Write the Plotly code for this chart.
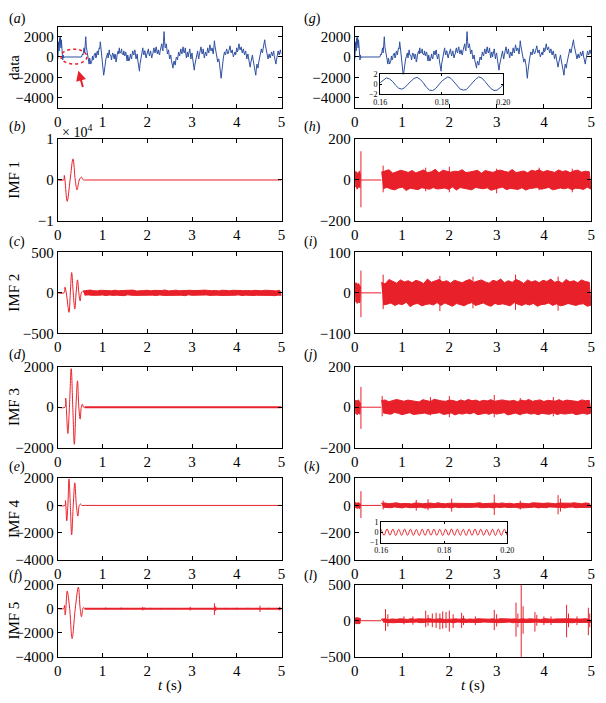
import numpy as np
import plotly.graph_objects as go

W, H = 606, 703
BLUE = '#2f50a0'
RED = '#e8202a'
FONT = 'Liberation Serif'

# ---------------- data ----------------
# raw data (a)/(g): early part 0..0.14 s, flat gap, then 0.55..5.0 s
DATA_EARLY = [-200, 800, 1500, 600, 1900, 1200, 2000, 900, 1700, 300, 900, -300, 200, -100, 0]
DATA_GAP = [0.14, 0.53]
DATA_MAIN = [
    300, 200, 700, 900, 400, 1100, 2000, 1000, 600, 700, 200, -300, -700, -100, -300, -700, -500, -400, 100, -300,
    -200, 200, 300, 400, -100, 0, 500, 600, 200, 700, 900, 800, 1500, 1000, 300, -100,
    -600, -1200, -1800, -1500, -900, -700, -200, 0, 300, 400, -100, 400, 700, 200, 200, 100, -300, 100, 400, 300,
    0, -200, 300, 200, -500, -300, 200, 400, 600, 300, 900, 400, 400, 500, 800, 300, 300, 200, 600, 200,
    100, 500, 400, -100, -400, 200, 0, -400, -300, 100, 300, -100, -200, 300, 600, 300, 200, 600, 700, 100,
    -200, 100, 300, -300, -600, -900, -1400, -700, -300, 0, 500, 700, 900, 400, 200, 600, 600, 100, -100, 200,
    400, 700, 800, 300, 100, 400, 600, 200, -100, 200, 300, 700, 900, 500, 400, 800, 1000, 600, 300, 600,
    700, 300, 200, 600, 900, 1100, 1300, 800, 600, 1500, 2500, 1500, 900, 1000, 1300, 700, 300, 500, 700, 200,
    -200, 0, 200, -300, -700, -900, -1100, -600, -400, -700, -800, -300, 0, -100, -300, 200, 500, 200, 100, 500,
    800, 500, 300, 700, 1000, 600, 400, 600, 900, 300, -100, 300, 500, 0, 200, 600, 800, 300, -200, 200,
    400, -100, -600, -1000, -1300, -800, -500, -100, 100, 400, 600, 100, -200, 200, 400, 800, 1000, 600, 300, 500,
    800, 300, -100, 200, 500, 300, 100, 500, 900, 600, 400, 800, 1200, 900, 600, 800, 900, 500, 300, 900,
    1600, 1100, 700, 500, 200, -100, -500, -200, -200, -600, -900, -1600, -2100, -1400, -800, -300, -100, 200, 500, 300,
    200, 600, 800, 500, 300, 400, 600, 900, 1100, 700, 400, 600, 700, 300, 0, 200, 400, 500, 200, 600,
    900, 500, 600, 1000, 1300, 900, 700, 900, 1000, 600, 400, 700, 800, 400, 200, 500, 600, 200, -200, 100,
    300, -100, -500, -800, -1000, -600, -300, 100, 200, -200, -600, -900, -1200, -1500, -1800, -1200, -700, -900, -1100, -600,
    -300, 0, 300, 600, 800, 500, 400, 800, 1200, 1500, 1700, 1200, 900, 700, 400, 100, -200, 100, 300, 0,
    -100, 200, 500, 300, 100, 400, 600, 100, -300, -500, -700, -300, 100, 400, 600, 300, 200, 500, 700, 400, 300]
INSET_G = [0.3, 0.9, 1.3, 1.1, 0.6, -0.2, -0.8, -1.0, -0.7, 0.0, 0.7, 1.2, 1.4, 1.0, 0.3, -0.6, -1.2, -1.3, -0.9, -0.1,
           0.6, 1.1, 1.5, 1.2, 0.5, -0.3, -1.0, -1.2, -1.1, -0.4, 0.4, 1.0, 1.5, 1.3, 0.6, -0.2, -0.9, -1.3, -1.2, -0.7, -0.1]

# left IMF wavelets (time, value)
WAVE_B_T = [0, 0.13, 0.145, 0.16, 0.21, 0.275, 0.34, 0.39, 0.43, 0.48, 0.53, 0.57, 0.6]
WAVE_B_V = [0, 0, 1100, 0, -5200, 0, 5150, 0, -2400, 0, 700, 0, 0]
WAVE_C_T = [0, 0.14, 0.16, 0.19, 0.25, 0.28, 0.31, 0.345, 0.38, 0.41, 0.44, 0.47, 0.50, 0.525, 0.55]
WAVE_C_V = [0, 0, 70, 0, -240, 0, 250, 0, -200, 0, 160, 0, -100, 0, 20]
WAVE_D_T = [0, 0.16, 0.175, 0.19, 0.225, 0.26, 0.30, 0.335, 0.37, 0.405, 0.44, 0.47, 0.50, 0.525, 0.55, 0.575, 0.6]
WAVE_D_V = [0, 0, 450, 0, -1300, 0, 1900, 0, -1830, 0, 1300, 0, -590, 0, 150, 0, 0]
WAVE_E_T = [0, 0.16, 0.17, 0.18, 0.20, 0.225, 0.25, 0.28, 0.31, 0.345, 0.38, 0.415, 0.45, 0.48, 0.51, 0.54, 0.6]
WAVE_E_V = [0, 0, 350, 0, -1130, 0, 1940, 0, -2150, 0, 1650, 0, -780, 0, 100, 0, 0]
WAVE_F_T = [0, 0.13, 0.15, 0.165, 0.18, 0.21, 0.265, 0.32, 0.39, 0.46, 0.50, 0.53, 0.56, 0.58, 0.6]
WAVE_F_V = [0, 0, 270, -530, 0, 1470, 0, -2480, 0, 1790, 0, -670, 0, 100, 0]

# noise bands: alternating upper (+) / lower (-) envelope values on an even time grid
BAND_C = [22, -28, 31, -25, 35, -30, 27, -33, 24, -29, 32, -26, 28, -34, 30, -27, 25, -31, 33, -28, 26, -30, 29, -35,
          31, -24, 27, -29, 34, -31, 23, -27, 30, -33, 28, -26, 32, -30, 25, -28, 31, -34, 27, -25, 29, -32, 35, -28,
          24, -30, 28, -27, 33, -31, 26, -29, 30, -35, 27, -24, 32, -30, 28, -33, 25, -27, 31, -29, 34, -26, 29, -31,
          27, -34, 30, -28, 24, -32, 33, -27, 28, -30, 26, -31, 32, -29, 29, -25, 35, -33, 27, -28, 30, -26, 25, -32,
          31, -30, 28, -34, 26, -27, 33, -29, 30, -31, 27, -35, 24, -28, 32, -30]
SPIKES_F = [(1.07, 100, -100), (1.42, 100, -90), (1.57, 70, -60), (1.9, 150, -150), (1.94, 90, -80), (2.08, 70, -60),
            (2.3, 60, -60), (2.52, 60, -60), (2.96, 150, -150), (3.25, 60, -50), (3.5, 450, -530), (3.53, 200, -200),
            (3.75, 70, -60), (4.0, 80, -80), (4.25, 80, -70), (4.52, 250, -270), (4.71, 80, -80), (4.96, 150, -150)]

# right column IMFs
EARLY_H = [30, -35, 42, -28, 38, -45, 33, -40, 36, -30, 44, -38, 25]
EARLY_I = [18, -22, 25, -20, 24, -26, 21, -19, 23, -25, 20, -22, 15]
EARLY_J = [28, -32, 35, -26, 30, -38, 33, -29, 36, -31, 27, -34, 20]
EARLY_K = [18, -15, 22, -20, 16, -21, 19, -17, 20, -18, 15, -22, 12]
EARLY_L = [35, -40, 45, -38, 42, -36, 40, -44, 37, -41, 43, -39, 30]
GAP_R = [0.12, 0.56]

BAND_H = [38, -42, 45, -36, 50, -44, 33, -48, 41, -39, 47, -35, 43, -51, 37, -40, 46, -43, 34, -47, 42, -38, 49, -41,
          36, -45, 40, -37, 52, -44, 35, -42, 48, -39, 44, -46, 38, -34, 43, -49, 41, -37, 50, -42, 36, -45, 39, -48,
          44, -36, 47, -40, 33, -43, 46, -38, 41, -50, 37, -44, 45, -39, 48, -35, 42, -47, 38, -41, 51, -43, 36, -46,
          40, -38, 44, -49, 35, -42, 47, -40, 43, -37, 50, -45, 39, -41, 46, -36, 42, -48, 37, -44, 49, -39, 41, -43,
          45, -38, 36, -47, 44, -40, 48, -42, 38, -46, 43, -35, 40, -45]
BAND_I = [26, -30, 22, -28, 33, -25, 29, -31, 24, -27, 32, -29, 27, -23, 30, -34, 25, -28, 31, -26, 28, -32, 23, -29,
          34, -27, 26, -30, 29, -24, 33, -31, 27, -25, 30, -28, 24, -33, 31, -26, 28, -29, 25, -32, 30, -27, 33, -24,
          26, -31, 29, -28, 32, -25, 27, -30, 24, -33, 31, -26, 28, -29, 34, -27, 25, -30, 30, -32, 26, -24, 33, -28,
          29, -31, 23, -27, 32, -30, 27, -26, 30, -33, 25, -29, 31, -28, 28, -25, 34, -31, 26, -27, 29, -32, 24, -30,
          33, -26, 27, -29, 30, -31, 25, -28, 32, -27, 28, -33, 26, -30]
BAND_J = [32, -28, 36, -33, 27, -35, 31, -26, 38, -30, 34, -37, 29, -32, 35, -27, 33, -36, 30, -34, 26, -31, 37, -29,
          32, -35, 28, -33, 39, -30, 34, -27, 31, -36, 29, -32, 35, -28, 33, -38, 27, -31, 36, -34, 30, -29, 38, -33,
          32, -26, 35, -37, 28, -32, 34, -30, 31, -35, 37, -28, 29, -34, 33, -31, 36, -27, 32, -38, 30, -33, 34, -29,
          27, -36, 35, -32, 31, -28, 38, -34, 29, -31, 33, -37, 36, -30, 28, -33, 34, -35, 32, -27, 30, -36, 37, -31,
          29, -34, 35, -32, 33, -29, 31, -37, 28, -33, 36, -30, 32, -35, 34, -28]
BAND_K = [15, -13, 18, -16, 12, -17, 14, -11, 19, -15, 13, -18, 16, -12, 14, -17, 11, -15, 18, -14, 16, -13, 12, -19,
          15, -16, 17, -12, 13, -15, 19, -14, 14, -17, 12, -13, 16, -18, 15, -11, 18, -16, 13, -14, 17, -15, 11, -19,
          14, -13, 16, -12, 19, -17, 13, -15, 15, -14, 12, -18, 17, -13, 14, -16, 18, -12, 13, -15, 16, -17, 11, -14,
          15, -19, 17, -13, 14, -16, 12, -15, 19, -12, 16, -18, 13, -14, 15, -17, 18, -11, 14, -16, 12, -13, 17, -15,
          15, -18, 13, -14, 16, -12, 19, -17, 14, -15, 12, -16, 18, -13, 15, -14]
BAND_L = [22, -18, 26, -24, 17, -21, 25, -28, 19, -23, 27, -20, 24, -26, 18, -22, 28, -25, 21, -19, 26, -27, 20, -23,
          24, -18, 29, -22, 19, -25, 23, -26, 27, -21, 18, -24, 25, -20, 22, -28, 26, -19, 21, -23, 28, -25, 20, -22,
          24, -27, 19, -21, 27, -24, 23, -18, 25, -26, 22, -20, 26, -23, 18, -27, 28, -21, 24, -25, 20, -19, 23, -28,
          25, -22, 19, -24, 27, -20, 21, -26, 26, -23, 24, -18, 22, -25, 18, -21, 29, -27, 23, -24, 20, -19, 25, -22,
          27, -26, 19, -23, 22, -21, 26, -28, 24, -20, 21, -25, 23, -24, 28, -19, 20, -22]

SPIKES_H = [(0.13, 140, -133), (0.6, 70, -60), (1.5, 60, -55), (2.0, 65, -60), (3.0, 55, -65), (3.9, 60, -50), (4.6, 55, -60)]
SPIKES_I = [(0.13, 55, -60), (0.6, 45, -40), (1.8, 42, -45), (2.5, 40, -38), (3.4, 45, -42), (4.3, 40, -44)]
SPIKES_J = [(0.13, 100, -107), (0.58, 55, -45), (1.6, 50, -40), (2.0, 55, -50), (2.95, 60, -50), (3.5, 45, -40), (4.2, 50, -45)]
SPIKES_K = [(0.13, 104, -92), (0.6, 35, -30), (1.3, 40, -38), (1.55, 45, -35), (2.05, 50, -45), (2.95, 80, -70),
            (3.5, 35, -30), (4.3, 75, -65), (4.35, 50, -45)]
SPIKES_L = [(0.65, 160, -140), (0.7, 90, -80), (1.04, 60, -50), (1.23, 60, -55), (1.5, 140, -90), (1.55, 80, -70),
            (1.64, 100, -90), (1.72, 110, -100), (1.8, 100, -120), (1.86, 130, -110), (1.93, 120, -100), (2.0, 140, -150),
            (2.08, 90, -100), (2.26, 110, -100), (2.3, 70, -60), (2.55, 60, -60), (2.95, 150, -130), (3.0, 90, -80),
            (3.41, 250, -220), (3.45, 100, -90), (3.52, 500, -500), (3.56, 200, -180), (3.81, 120, -150), (3.85, 80, -70),
            (4.0, 60, -60), (4.15, 60, -60), (4.48, 220, -230), (4.52, 100, -90), (4.7, 60, -60), (4.94, 180, -200),
            (4.97, 100, -90)]
INSET_K = [0.3, -0.3, 0.32, -0.28, 0.3, -0.31, 0.29, -0.3, 0.31, -0.29, 0.3, -0.3, 0.28, -0.32, 0.3, -0.3, 0.31, -0.29,
           0.3, -0.3, 0.29, -0.31, 0.3, -0.28, 0.32, -0.3, 0.3, -0.3, 0.29, -0.31, 0.3, -0.3, 0.31, -0.29, 0.3, -0.3,
           0.28, -0.3, 0.3, -0.31, 0.3, -0.3, 0.29, -0.3]

X_TICKS = [0, 1, 2, 3, 4, 5]

# ---------------- layout helpers ----------------
LEFT_X = (52, 281)
RIGHT_X = (356, 598)
ROWS = [(19, 102), (134, 218), (250, 333), (367, 450), (481, 565), (590, 664)]
LABEL_Y = [11, 122, 239, 355, 470, 581]


def xdom(a, b):
    return [a / W, b / W]


def ydom(t, b):
    return [1 - b / H, 1 - t / H]


fig = go.Figure()
layout = dict(width=W, height=H, margin=dict(l=0, r=0, t=0, b=0), paper_bgcolor='white',
              plot_bgcolor='white', showlegend=False, font=dict(family=FONT, color='black', size=15))

axis_style = dict(showline=True, linecolor='black', linewidth=1, mirror='ticks', ticks='inside', ticklen=4,
                  tickcolor='black', tickwidth=1, tickfont=dict(family=FONT, size=15, color='black'),
                  showgrid=False, zeroline=False)

Y_SPECS = {
    1: ([-5000, 3000], [-4000, -2000, 0, 2000]),
    2: ([-1, 1], [-1, 0, 1]),
    3: ([-500, 500], [-500, 0, 500]),
    4: ([-2000, 2000], [-2000, 0, 2000]),
    5: ([-4000, 2000], [-4000, -2000, 0, 2000]),
    6: ([-4000, 2000], [-4000, -2000, 0, 2000]),
    7: ([-5000, 3000], [-4000, -2000, 0, 2000]),
    8: ([-200, 200], [-200, 0, 200]),
    9: ([-100, 100], [-100, 0, 100]),
    10: ([-200, 200], [-200, 0, 200]),
    11: ([-400, 200], [-400, -200, 0, 200]),
    12: ([-500, 500], [-500, 0, 500]),
}

for i in range(1, 13):
    col = LEFT_X if i <= 6 else RIGHT_X
    row = ROWS[(i - 1) % 6]
    layout[f'xaxis{i}'] = dict(axis_style, domain=xdom(*col), anchor=f'y{i}', range=[0, 5], tickvals=X_TICKS)
    yr, yt = Y_SPECS[i]
    layout[f'yaxis{i}'] = dict(axis_style, domain=ydom(*row), anchor=f'x{i}', range=yr, tickvals=yt)

# insets
inset_style = dict(axis_style, ticklen=2, tickfont=dict(family=FONT, size=8, color='black'))
layout['xaxis13'] = dict(inset_style, domain=xdom(382, 508), anchor='y13', range=[0.16, 0.20],
                         tickvals=[0.16, 0.18, 0.20], ticktext=['0.16', '0.18', '0.20'])
layout['yaxis13'] = dict(inset_style, domain=ydom(68, 88), anchor='x13', range=[-2, 2], tickvals=[-2, 0, 2])
layout['xaxis14'] = dict(inset_style, domain=xdom(383, 512), anchor='y14', range=[0.16, 0.20],
                         tickvals=[0.16, 0.18, 0.20], ticktext=['0.16', '0.18', '0.20'])
layout['yaxis14'] = dict(inset_style, domain=ydom(526, 547), anchor='x14', range=[-1, 1], tickvals=[-1, 0, 1])


def add_line(x, y, ax, color=RED, width=1, shape='linear'):
    fig.add_trace(go.Scatter(x=list(x), y=list(y), mode='lines', line=dict(color=color, width=width, shape=shape),
                             xaxis=f'x{ax}', yaxis=f'y{ax}', hoverinfo='skip'))


def add_band(t0, t1, vals, ax):
    """Solid noise band: positive entries = upper envelope, negative = lower envelope."""
    t = np.linspace(t0, t1, len(vals))
    v = np.array(vals, dtype=float)
    up = v > 0
    x = np.concatenate([t[up], t[~up][::-1]])
    y = np.concatenate([v[up], v[~up][::-1]])
    fig.add_trace(go.Scatter(x=list(x), y=list(y), mode='lines', fill='toself', fillcolor=RED,
                             line=dict(color=RED, width=1), xaxis=f'x{ax}', yaxis=f'y{ax}', hoverinfo='skip'))


def add_spikes(sp, ax):
    xs, ys = [], []
    for t, u, d in sp:
        xs += [t, t, None]
        ys += [u, d, None]
    add_line(xs, ys, ax)


# (a) and (g): raw data
t_early = np.linspace(0.0, 0.14, len(DATA_EARLY))
t_main = np.linspace(0.55, 5.0, len(DATA_MAIN))
x_data = np.concatenate([t_early, DATA_GAP, t_main])
y_data = np.concatenate([DATA_EARLY, [0, 0], DATA_MAIN])
add_line(x_data, y_data, 1, color=BLUE)
add_line(x_data, y_data, 7, color=BLUE)

# (b)
add_line(WAVE_B_T, np.array(WAVE_B_V) / 1e4, 2, shape='spline')
add_line([0.6, 5.0], [0, 0], 2)
# (c)
add_line(WAVE_C_T, WAVE_C_V, 3, shape='spline')
add_band(0.56, 5.0, BAND_C, 3)
# (d)
add_line(WAVE_D_T, WAVE_D_V, 4, shape='spline')
add_line([0.6, 5.0], [0, 0], 4, width=2)
# (e)
add_line(WAVE_E_T, WAVE_E_V, 5, shape='spline')
add_line([0.6, 5.0], [0, 0], 5)
# (f)
add_line(WAVE_F_T, WAVE_F_V, 6, shape='spline')
add_line([0.6, 5.0], [0, 0], 6, width=2)
add_spikes(SPIKES_F, 6)


# right column
def right_panel(early, band, spikes, ax):
    add_band(0.0, 0.12, early, ax)
    add_line(GAP_R, [0, 0], ax)
    add_band(0.56, 5.0, band, ax)
    add_spikes(spikes, ax)


right_panel(EARLY_H, BAND_H, SPIKES_H, 8)
right_panel(EARLY_I, BAND_I, SPIKES_I, 9)
right_panel(EARLY_J, BAND_J, SPIKES_J, 10)
right_panel(EARLY_K, BAND_K, SPIKES_K, 11)
right_panel(EARLY_L, BAND_L, SPIKES_L, 12)

# insets
shapes = []
for ax, xr, yr in [(13, [0.16, 0.20], [-2, 2]), (14, [0.16, 0.20], [-1, 1])]:
    shapes.append(dict(type='rect', xref=f'x{ax}', yref=f'y{ax}', x0=xr[0], x1=xr[1], y0=yr[0], y1=yr[1],
                       fillcolor='white', line=dict(width=0), layer='below'))
add_line(np.linspace(0.16, 0.20, len(INSET_G)), INSET_G, 13, color=BLUE)
add_line(np.linspace(0.16, 0.20, len(INSET_K)), INSET_K, 14, shape='spline')

# ellipse + arrow in (a)
shapes.append(dict(type='circle', xref='x1', yref='y1', x0=0.07, x1=0.65, y0=-700, y1=770,
                   line=dict(color=RED, width=1.5, dash='dot'), layer='above'))
layout['shapes'] = shapes

ann = []
ann.append(dict(x=0.46, y=-1350, ax=0.57, ay=-3100, xref='x1', yref='y1', axref='x1', ayref='y1', text='',
                showarrow=True, arrowhead=2, arrowsize=1, arrowwidth=2, arrowcolor=RED))

# panel labels
letters_l = ['a', 'b', 'c', 'd', 'e', 'f']
letters_r = ['g', 'h', 'i', 'j', 'k', 'l']
for k in range(6):
    for lx, lt in [(0, letters_l[k]), (302, letters_r[k])]:
        ann.append(dict(x=lx / W, y=1 - LABEL_Y[k] / H, xref='paper', yref='paper', xanchor='left', yanchor='middle',
                        text=f'(<i>{lt}</i>)', showarrow=False, font=dict(family=FONT, size=14)))

# y titles
ytitles = ['data', 'IMF 1', 'IMF 2', 'IMF 3', 'IMF 4', 'IMF 5']
for k, txt in enumerate(ytitles):
    t, b = ROWS[k]
    ann.append(dict(x=7 / W, y=1 - (t + b) / 2 / H, xref='paper', yref='paper', xanchor='center', yanchor='middle',
                    text=txt, textangle=-90, showarrow=False, font=dict(family=FONT, size=15)))

# x titles
for cx in [(LEFT_X[0] + LEFT_X[1]) / 2, (RIGHT_X[0] + RIGHT_X[1]) / 2]:
    ann.append(dict(x=cx / W, y=1 - 693 / H, xref='paper', yref='paper', xanchor='center', yanchor='middle',
                    text='<i>t</i> (s)', showarrow=False, font=dict(family=FONT, size=15)))

# exponent label for IMF1
ann.append(dict(x=54 / W, y=1 - 126 / H, xref='paper', yref='paper', xanchor='left', yanchor='middle',
                text='× 10<sup>4</sup>', showarrow=False, font=dict(family=FONT, size=14)))

layout['annotations'] = ann
fig.update_layout(**layout)
fig.write_html('out.html')
